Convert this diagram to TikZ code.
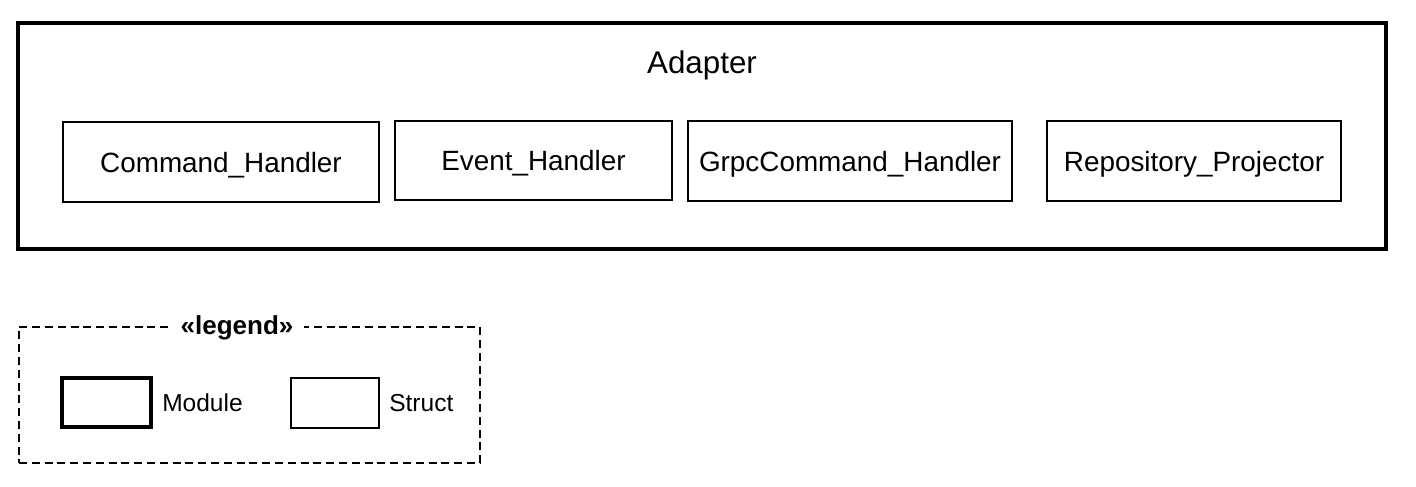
\documentclass[tikz,border=0pt]{standalone}
\usepackage{fontspec}
\setmainfont{Liberation Sans}
\begin{document}
\begin{tikzpicture}[x=0.75pt,y=-0.75pt,
  structbox/.style={draw=black,line width=1.1pt,rectangle,inner sep=0pt,text depth=0pt,font=\fontsize{20.9pt}{24pt}\selectfont},
  modulebox/.style={draw=black,line width=2.3pt,rectangle,inner sep=0pt},
  legendbox/.style={draw=black,line width=1.1pt,dash pattern=on 6pt off 3.6pt,rectangle,inner sep=0pt},
  legendtext/.style={font=\fontsize{18.4pt}{22pt}\selectfont,inner sep=0pt}]
\useasboundingbox (0,0) rectangle (1416,486);
% Adapter module
\node[modulebox,minimum width=1026pt,minimum height=169.5pt] (adapter) at (702,136) {};
\node[anchor=base,inner sep=0pt,font=\fontsize{23.5pt}{27pt}\selectfont] (adaptertitle) at (702,73) {Adapter};
\node[structbox,minimum width=237pt,minimum height=60pt] (cmd) at (221,162) {Command\_Handler};
\node[structbox,minimum width=207.75pt,minimum height=59.25pt] (evt) at (533.5,160.5) {Event\_Handler};
\node[structbox,minimum width=243pt,minimum height=60pt] (grpc) at (850,161) {GrpcCommand\_Handler};
\node[structbox,minimum width=220.5pt,minimum height=60pt] (repo) at (1194,161) {Repository\_Projector};
% Legend
\node[legendbox,minimum width=345.75pt,minimum height=102pt] (legend) at (249.5,395) {};
\node[fill=white,inner xsep=8pt,inner ysep=1pt,font=\bfseries\fontsize{19.5pt}{22pt}\selectfont] (legendtitle) at (237,328) {«legend»};
\node[modulebox,minimum width=66.75pt,minimum height=36.75pt] (lmod) at (106.5,402.5) {};
\node[legendtext,anchor=base west] (lmodtext) at (162,411) {Module};
\node[structbox,minimum width=66pt,minimum height=37.5pt] (lstruct) at (335,403) {};
\node[legendtext,anchor=base west] (lstructtext) at (389,411) {Struct};
\end{tikzpicture}
\end{document}
